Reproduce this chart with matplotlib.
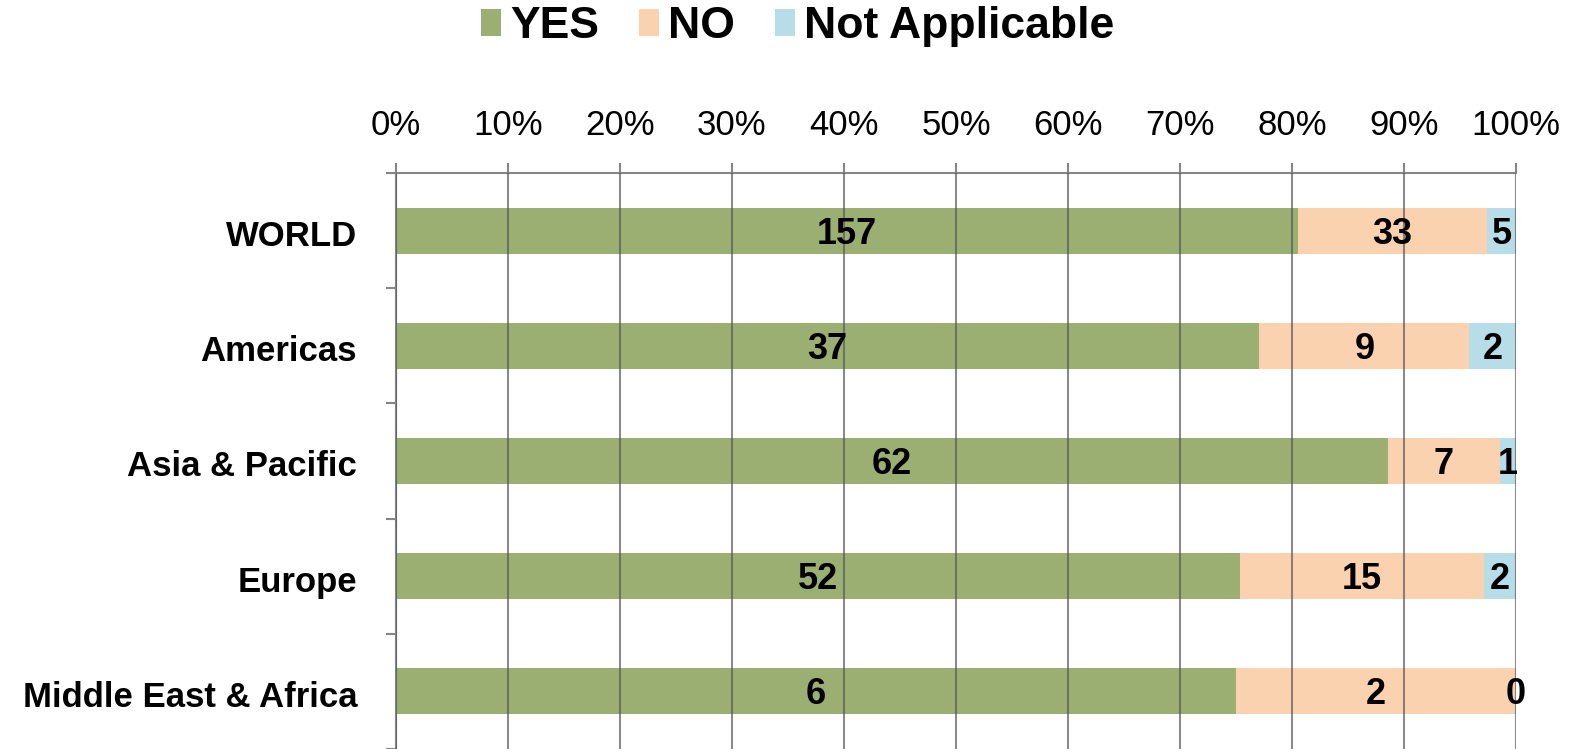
import matplotlib.pyplot as plt
import numpy as np

regions = ['WORLD', 'Americas', 'Asia & Pacific', 'Europe', 'Middle East & Africa']
yes = [157, 37, 62, 52, 6]
no = [33, 9, 7, 15, 2]
na = [5, 2, 1, 2, 0]

series = [('YES', yes, '#9BAF73'), ('NO', no, '#FBD2B0'), ('Not Applicable', na, '#B6DDE8')]

plt.rcParams['font.family'] = ['Liberation Sans', 'DejaVu Sans']

fig = plt.figure(figsize=(15.7, 7.49), dpi=100)
ax = fig.add_axes([0.2522, 0.0, 0.7134, 0.769])

totals = np.array(yes) + np.array(no) + np.array(na)
y = np.arange(len(regions))
left = np.zeros(len(regions))
for name, vals, col in series:
    vals = np.array(vals)
    share = vals / totals * 100
    ax.barh(y, share, left=left, height=0.4, color=col, label=name, zorder=1)
    for yi, l, s, v in zip(y, left, share, vals):
        ax.text(l + s / 2, yi + 0.03, str(v), ha='center', va='center',
                fontsize=26, fontweight='bold', zorder=4)
    left += share

ax.set_xlim(0, 100)
ax.set_ylim(len(regions) - 0.5, -0.5)
ax.set_xticks(np.arange(0, 101, 10))
ax.set_xticklabels(['{}%'.format(v) for v in range(0, 101, 10)])
ax.xaxis.tick_top()
ax.tick_params(axis='x', direction='out', length=7, width=1.5, color='#858585',
               labelsize=25, pad=15)
ax.grid(axis='x', color='#5a5a5a', linewidth=1.5, alpha=0.7, zorder=3)
ax.set_axisbelow(False)

ax.set_yticks(y + 0.02)
ax.set_yticklabels(regions, fontsize=25, fontweight='bold')
ax.set_yticks(np.arange(-0.5, len(regions)), minor=True)
ax.tick_params(axis='y', which='major', length=0, pad=28)
ax.tick_params(axis='y', which='minor', direction='out', length=7, width=1.5, color='#858585')

for s in ['right', 'bottom']:
    ax.spines[s].set_visible(False)
for s in ['left', 'top']:
    ax.spines[s].set_color('#858585')
    ax.spines[s].set_linewidth(1.5)

fig.legend(loc='upper center', bbox_to_anchor=(0.508, 1.045), ncol=3, frameon=False,
           prop={'size': 32, 'weight': 'bold'}, handlelength=0.45, handleheight=0.55,
           handletextpad=0.2, columnspacing=0.9)

fig.savefig('out.png', dpi=100)
